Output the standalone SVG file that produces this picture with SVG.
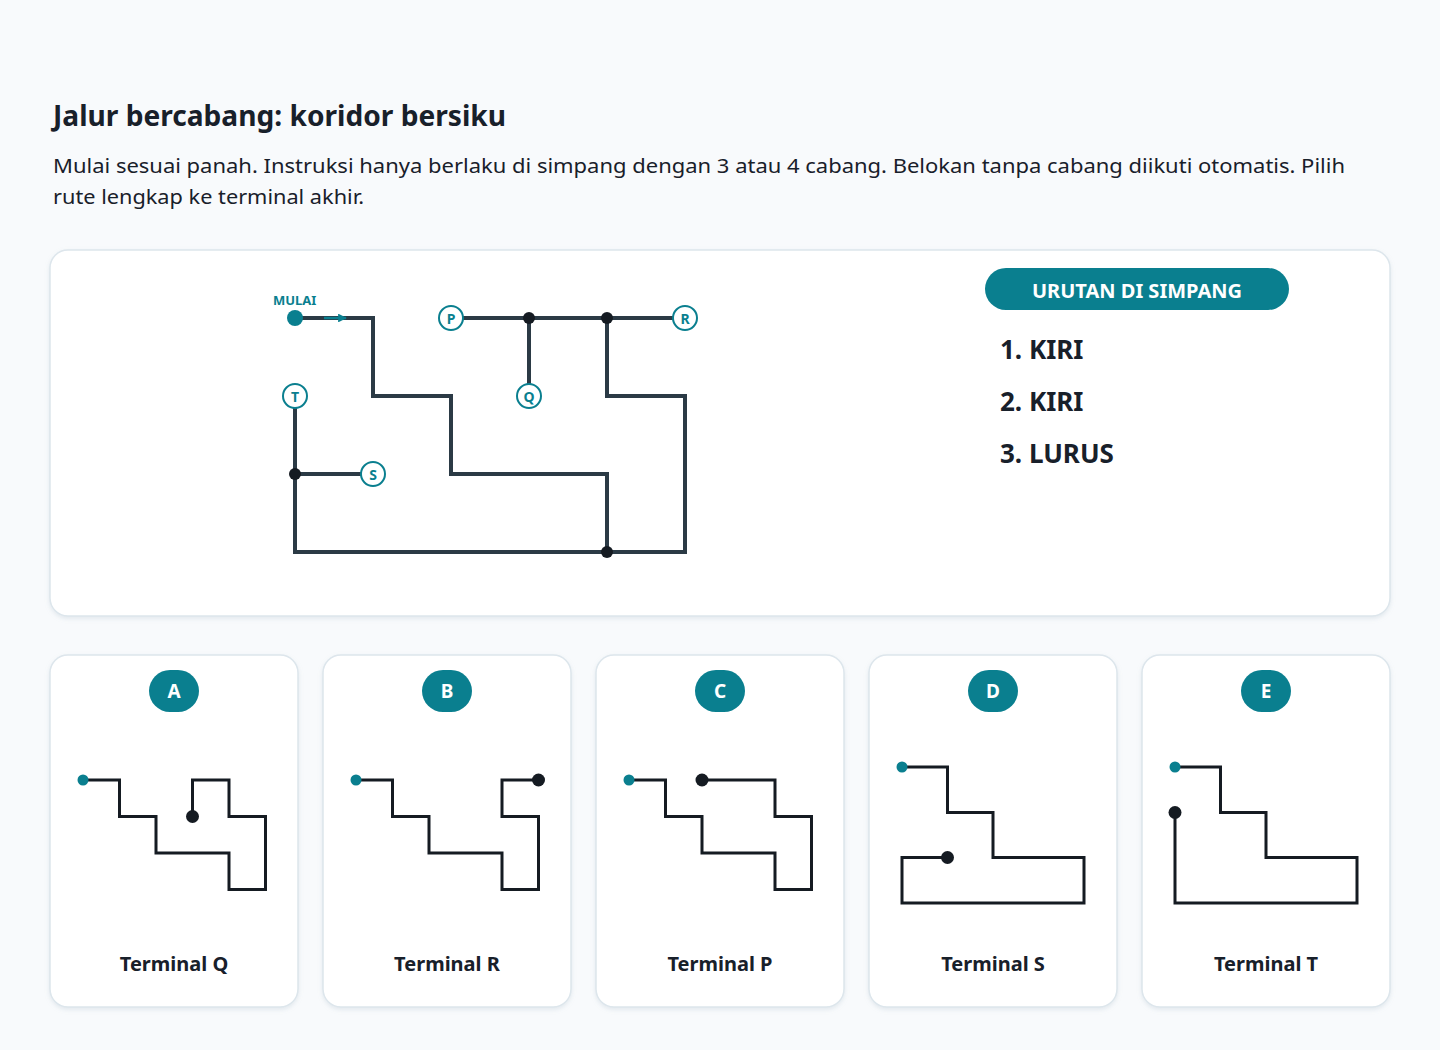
<svg xmlns="http://www.w3.org/2000/svg" width="1440" height="1050" viewBox="0 0 1440 1050">
<defs>
<style>
.title{font-family:"Noto Sans",Roboto,sans-serif;font-weight:700;font-size:28px;fill:#18202a}
.body{font-family:"Noto Sans",Roboto,sans-serif;font-size:20px;fill:#18202a}
.card{fill:#ffffff;stroke:#dde6ec;stroke-width:1.5}
.maze{fill:none;stroke:#2b3a45;stroke-width:4;stroke-linejoin:miter;stroke-linecap:square}
.opt{fill:none;stroke:#151b22;stroke-width:3;stroke-linejoin:miter;stroke-linecap:square}
.jn{fill:#151b22}
.start{fill:#0a7f8f}
.term circle{fill:#ffffff;stroke:#0a7f8f;stroke-width:2}
.term text{font-family:"Noto Sans",sans-serif;font-weight:700;font-size:14px;fill:#0a7f8f;text-anchor:middle}
.mulai{font-family:"Noto Sans",sans-serif;font-weight:700;font-size:13px;fill:#0a7f8f}
.pill{fill:#0a7f8f}
.pilltext{font-family:"Noto Sans",sans-serif;font-weight:700;font-size:20px;fill:#ffffff;text-anchor:middle}
.step{font-family:"Noto Sans",sans-serif;font-weight:700;font-size:26px;fill:#18202a}
.badge text{font-family:"Noto Sans",sans-serif;font-weight:700;font-size:19px;fill:#ffffff;text-anchor:middle}
.lbl{font-family:"Noto Sans",sans-serif;font-weight:700;font-size:20px;fill:#18202a;text-anchor:middle}
</style>
<marker id="arr" viewBox="0 0 10 10" refX="9" refY="5" markerWidth="3.5" markerHeight="3.5" orient="auto" markerUnits="strokeWidth">
<path d="M0,0 L10,5 L0,10 z" fill="#0a7f8f"/>
</marker>
<filter id="sh" x="-5%" y="-5%" width="110%" height="115%">
<feDropShadow dx="0" dy="2" stdDeviation="2" flood-color="#9fb3c0" flood-opacity="0.25"/>
</filter>
</defs>
<rect width="1440" height="1050" fill="#f8fafc"/>
<text class="title" x="53" y="126" textLength="453" lengthAdjust="spacingAndGlyphs">Jalur bercabang: koridor bersiku</text>
<text class="body" x="53" y="173" textLength="1292" lengthAdjust="spacingAndGlyphs">Mulai sesuai panah. Instruksi hanya berlaku di simpang dengan 3 atau 4 cabang. Belokan tanpa cabang diikuti otomatis. Pilih</text>
<text class="body" x="53" y="204" textLength="311" lengthAdjust="spacingAndGlyphs">rute lengkap ke terminal akhir.</text>

<g id="main-card">
<rect class="card" x="50" y="250" width="1340" height="366" rx="18" filter="url(#sh)"/>
</g>

<g id="connectors">
<path class="maze" d="M295,318 H373 V396 H451 V474 H607 V552"/>
<path class="maze" d="M463,318 H673"/>
<path class="maze" d="M529,318 V384"/>
<path class="maze" d="M607,318 V396 H685 V552 H295 V408"/>
<path class="maze" d="M295,474 H361"/>
<path d="M324,318 H346" stroke="#0a7f8f" stroke-width="2.5" fill="none" marker-end="url(#arr)"/>
</g>

<g id="start">
<circle class="start" cx="295" cy="318" r="8"/>
<text class="mulai" x="273" y="305">MULAI</text>
</g>
<g id="junctions">
<circle class="jn" cx="529" cy="318" r="6"/>
<circle class="jn" cx="607" cy="318" r="6"/>
<circle class="jn" cx="295" cy="474" r="6"/>
<circle class="jn" cx="607" cy="552" r="6"/>
</g>
<g id="term-P" class="term"><circle cx="451" cy="318" r="12"/><text x="451" y="324">P</text></g>
<g id="term-R" class="term"><circle cx="685" cy="318" r="12"/><text x="685" y="324">R</text></g>
<g id="term-Q" class="term"><circle cx="529" cy="396" r="12"/><text x="529" y="402">Q</text></g>
<g id="term-T" class="term"><circle cx="295" cy="396" r="12"/><text x="295" y="402">T</text></g>
<g id="term-S" class="term"><circle cx="373" cy="474" r="12"/><text x="373" y="480">S</text></g>

<g id="legend">
<rect class="pill" x="985" y="268" width="304" height="42" rx="21"/>
<text class="pilltext" x="1137" y="298">URUTAN DI SIMPANG</text>
<text class="step" x="1000" y="359">1. KIRI</text>
<text class="step" x="1000" y="411">2. KIRI</text>
<text class="step" x="1000" y="463">3. LURUS</text>
</g>

<g id="option-A">
<rect class="card" x="50" y="655" width="248" height="352" rx="18" filter="url(#sh)"/>
<g class="badge"><rect class="pill" x="149" y="670" width="50" height="42" rx="21"/><text x="174" y="698">A</text></g>
<path class="opt" d="M83,780 H119.5 V816.5 H156 V853 H229 V889.5 H265.5 V816.5 H229 V780 H192.5 V816.5"/>
<circle class="start" cx="83" cy="780" r="5.5"/>
<circle class="jn" cx="192.5" cy="816.5" r="6.5"/>
<text class="lbl" x="174" y="971">Terminal Q</text>
</g>

<g id="option-B">
<rect class="card" x="323" y="655" width="248" height="352" rx="18" filter="url(#sh)"/>
<g class="badge"><rect class="pill" x="422" y="670" width="50" height="42" rx="21"/><text x="447" y="698">B</text></g>
<path class="opt" d="M356,780 H392.5 V816.5 H429 V853 H502 V889.5 H538.5 V816.5 H502 V780 H538.5"/>
<circle class="start" cx="356" cy="780" r="5.5"/>
<circle class="jn" cx="538.5" cy="780" r="6.5"/>
<text class="lbl" x="447" y="971">Terminal R</text>
</g>

<g id="option-C">
<rect class="card" x="596" y="655" width="248" height="352" rx="18" filter="url(#sh)"/>
<g class="badge"><rect class="pill" x="695" y="670" width="50" height="42" rx="21"/><text x="720" y="698">C</text></g>
<path class="opt" d="M629,780 H665.5 V816.5 H702 V853 H775 V889.5 H811.5 V816.5 H775 V780 H702"/>
<circle class="start" cx="629" cy="780" r="5.5"/>
<circle class="jn" cx="702" cy="780" r="6.5"/>
<text class="lbl" x="720" y="971">Terminal P</text>
</g>

<g id="option-D">
<rect class="card" x="869" y="655" width="248" height="352" rx="18" filter="url(#sh)"/>
<g class="badge"><rect class="pill" x="968" y="670" width="50" height="42" rx="21"/><text x="993" y="698">D</text></g>
<path class="opt" d="M902,767 H947.5 V812.5 H993 V857.5 H1084 V903 H902 V857.5 H947.5"/>
<circle class="start" cx="902" cy="767" r="5.5"/>
<circle class="jn" cx="947.5" cy="857.5" r="6.5"/>
<text class="lbl" x="993" y="971">Terminal S</text>
</g>

<g id="option-E">
<rect class="card" x="1142" y="655" width="248" height="352" rx="18" filter="url(#sh)"/>
<g class="badge"><rect class="pill" x="1241" y="670" width="50" height="42" rx="21"/><text x="1266" y="698">E</text></g>
<path class="opt" d="M1175,767 H1220.5 V812.5 H1266 V857.5 H1357 V903 H1175 V812.5"/>
<circle class="start" cx="1175" cy="767" r="5.5"/>
<circle class="jn" cx="1175" cy="812.5" r="6.5"/>
<text class="lbl" x="1266" y="971">Terminal T</text>
</g>
</svg>
